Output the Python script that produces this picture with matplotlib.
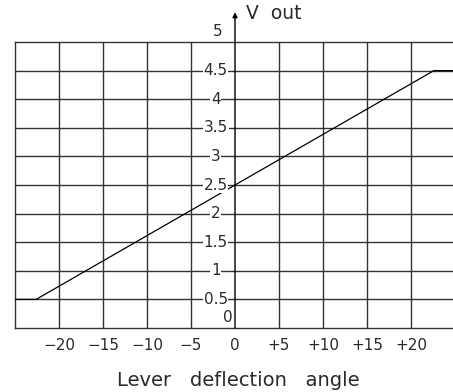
import matplotlib.pyplot as plt

# transfer curve: lever angle (deg) -> output voltage (V)
angle = [-25, -22.6, 22.6, 25]
vout = [0.5, 0.5, 4.5, 4.5]

x_ticks = [-20, -15, -10, -5, 0, 5, 10, 15, 20]
x_labels = ["\u221220", "\u221215", "\u221210", "\u22125", "0", "+5", "+10", "+15", "+20"]
y_ticks = [0.5, 1, 1.5, 2, 2.5, 3, 3.5, 4, 4.5]
y_labels = ["0.5", "1", "1.5", "2", "2.5", "3", "3.5", "4", "4.5"]

grid_col = "#333333"
txt_col = "#2a2a2a"

fig = plt.figure(figsize=(4.53, 3.92), dpi=100)
ax = fig.add_axes([15 / 453, 64 / 392, 438 / 453, 286 / 392])
ax.set_xlim(-25, 24.77)
ax.set_ylim(0, 5)
ax.set_xticks([])
ax.set_yticks([])
ax.spines["right"].set_visible(False)
for s in ["left", "bottom", "top"]:
    ax.spines[s].set_color(grid_col)
    ax.spines[s].set_linewidth(1.0)

# grid
for xv in x_ticks:
    if xv != 0:
        ax.axvline(xv, color=grid_col, lw=1.0, zorder=1)
for yv in y_ticks:
    ax.axhline(yv, color=grid_col, lw=1.0, zorder=1)

# vertical axis with arrow
ax.annotate("", xy=(0, 5.52), xytext=(0, 0), annotation_clip=False,
            arrowprops=dict(arrowstyle="-|>", color="black", lw=1.0,
                            mutation_scale=7, shrinkA=0, shrinkB=0))
ax.text(1.2, 5.5, "V  out", fontsize=13.5, color=txt_col, ha="left", va="center",
        clip_on=False)

ax.plot(angle, vout, color="black", lw=0.9, zorder=3)

# y labels sitting on the grid lines
for yv, lab in zip(y_ticks, y_labels):
    ax.text(-2.2, yv, lab, fontsize=11, color=txt_col, ha="center", va="center",
            zorder=4, bbox=dict(facecolor="white", edgecolor="none", pad=0.5))
ax.text(-2.0, 5.19, "5", fontsize=11, color=txt_col, ha="center", va="center",
        clip_on=False)
ax.text(-0.8, 0.18, "0", fontsize=11, color=txt_col, ha="center", va="center")

# x labels
for xv, lab in zip(x_ticks, x_labels):
    ax.text(xv, -0.3, lab, fontsize=11, color=txt_col, ha="center", va="center",
            clip_on=False)

ax.text(0.4, -0.91, "Lever   deflection   angle", fontsize=14, color=txt_col,
        ha="center", va="center", clip_on=False)

fig.savefig("out.png", dpi=100)
